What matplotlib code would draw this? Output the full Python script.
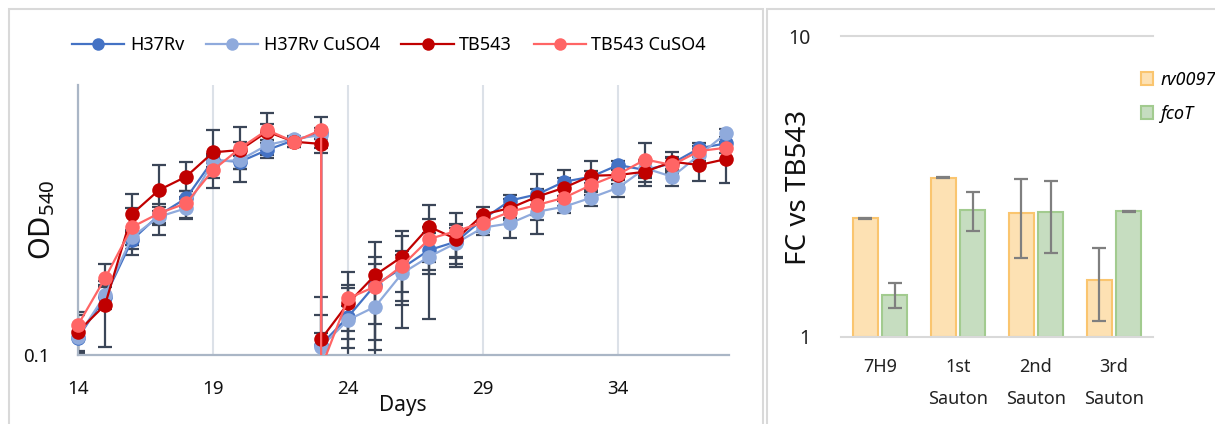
import matplotlib
matplotlib.use("Agg")
import matplotlib.pyplot as plt
from matplotlib.patches import Rectangle, Patch
from matplotlib.ticker import NullLocator, FixedLocator

plt.rcParams['font.family'] = ['Noto Sans', 'DejaVu Sans']
plt.rcParams['mathtext.fontset'] = 'custom'
plt.rcParams['mathtext.rm'] = 'Noto Sans'

# ---------------- Left chart data ----------------
days = [14, 15, 16, 17, 18, 19, 20, 21, 22, 23,
        23, 24, 25, 26, 27, 28, 29, 30, 31, 32, 33, 34, 35, 36, 37, 38]

h37rv = [0.134, 0.269, 0.711, 1.089, 1.448, 2.78, 2.70, 3.30, 3.91, 4.41,
         0.119, 0.192, 0.330, 0.441, 0.599, 0.691, 1.017, 1.394, 1.549, 1.921,
         2.093, 2.555, 2.345, 2.63, 3.40, 3.70]
h37rv_cu = [0.137, 0.278, 0.748, 1.058, 1.221, 2.70, 2.78, 3.59, 3.98, 4.26,
            0.115, 0.182, 0.228, 0.403, 0.535, 0.675, 0.879, 0.945, 1.152, 1.255,
            1.463, 1.735, 2.415, 2.093, 3.03, 4.39]
tb543 = [0.149, 0.235, 1.107, 1.668, 2.093, 3.17, 3.30, 4.51, 3.80, 3.66,
         0.131, 0.2415, 0.391, 0.535, 0.892, 0.723, 1.098, 1.227, 1.488, 1.735,
         2.128, 2.154, 2.28, 2.70, 2.555, 2.83]
tb543_cu = [0.167, 0.370, 0.887, 1.121, 1.330, 2.345, 3.40, 4.64, 3.80, 4.64,
            0.08, 0.263, 0.321, 0.459, 0.723, 0.829, 0.958, 1.152, 1.292, 1.463,
            1.816, 2.18, 2.806, 2.555, 3.245, 3.43]

err_h37rv = [0.03, 0.05, 0.10, 0.15, 0.20, 0.30, 0.30, 0.40, 0.20, 0.40,
             0.08, 0.12, 0.20, 0.15, 0.20, 0.24, 0.10, 0.15, 0.15, 0.42,
             0.20, 0.20, 0.30, 0.30, 0.30, 0.30]
err_h37rv_cu = [0.03, 0.05, 0.10, 0.10, 0.20, 0.30, 0.40, 0.30, 0.20, 0.30,
                0.03, 0.05, 0.12, 0.15, 0.35, 0.20, 0.10, 0.21, 0.15, 0.13,
                0.20, 0.25, 0.30, 0.30, 0.30, 0.30]
err_tb543 = [0.05, 0.12, 0.45, 0.90, 0.60, 1.45, 0.50, 0.60, 0.30, 0.50,
             0.14, 0.09, 0.30, 0.30, 0.40, 0.20, 0.15, 0.20, 0.70, 0.30,
             0.60, 0.30, 0.50, 0.50, 0.60, 0.95]
err_tb543_cu = [0.04, 0.10, 0.34, 0.20, 0.30, 0.30, 1.50, 1.60, 0.30, 1.20,
                0.00, 0.15, 0.15, 0.30, 0.30, 0.30, 0.15, 0.15, 0.20, 0.20,
                0.20, 0.20, 0.90, 0.30, 0.30, 0.30]

series_labels = ['H37Rv', 'H37Rv CuSO4', 'TB543', 'TB543 CuSO4']
series_colors = ['#4472C4', '#8FAADC', '#C00000', '#FF6565']

x_ticks = [14, 19, 24, 29, 34]

# ---------------- Right chart data ----------------
conditions = ['7H9', '1st\nSauton', '2nd\nSauton', '3rd\nSauton']
rv0097 = [2.48, 3.38, 2.59, 1.55]
rv0097_err = [0.01, 0.01, 0.76, 0.42]
fcoT = [1.38, 2.64, 2.60, 2.62]
fcoT_err = [0.127, 0.39, 0.70, 0.01]

W, H = 1215, 424
fig = plt.figure(figsize=(W / 100, H / 100), dpi=100)

def fx(px):
    return px / W

def fy(py):
    return 1 - py / H

# panel frames
fig.patches.append(Rectangle((fx(9), fy(440)), fx(763) - fx(9), fy(9) - fy(440),
                             transform=fig.transFigure, fill=False,
                             edgecolor='#D9D9D9', linewidth=1.5))
fig.patches.append(Rectangle((fx(767), fy(440)), fx(1230) - fx(767), fy(9) - fy(440),
                             transform=fig.transFigure, fill=False,
                             edgecolor='#D9D9D9', linewidth=1.5))

# ---------------- Left axes ----------------
ax1 = fig.add_axes([fx(78), fy(355), fx(729) - fx(78), fy(85) - fy(355)])
ax1.set_yscale('log')
ax1.set_ylim(0.1, 10)
ax1.set_xlim(14, 38.1)

all_vals = [h37rv, h37rv_cu, tb543, tb543_cu]
all_errs = [err_h37rv, err_h37rv_cu, err_tb543, err_tb543_cu]
handles = []
for vals, errs in zip(all_vals, all_errs):
    ax1.errorbar(days, vals, yerr=errs, fmt='none', ecolor='#3B4658',
                 elinewidth=1.6, capsize=4.8, capthick=1.6, zorder=2)
for i, (vals, col, lab) in enumerate(zip(all_vals, series_colors, series_labels)):
    ax1.plot(days, vals, '-', color=col, linewidth=1.6, zorder=3 + i * 0.1)
    vis = [(d, v) for d, v in zip(days, vals) if v >= 0.1]
    mk, = ax1.plot([d for d, _ in vis], [v for _, v in vis], 'o', color=col,
                   markersize=10.5, markeredgewidth=0, zorder=3.05 + i * 0.1,
                   clip_on=False)
    h, = ax1.plot([], [], '-o', color=col, linewidth=1.6, markersize=9,
                  markeredgewidth=0, label=lab)
    handles.append(h)

for s in ['top', 'right']:
    ax1.spines[s].set_visible(False)
for s in ['left', 'bottom']:
    ax1.spines[s].set_color('#AAB6C6')
    ax1.spines[s].set_linewidth(1.6)
ax1.set_xticks(x_ticks)
ax1.set_xticklabels([str(t) for t in x_ticks])
ax1.xaxis.grid(True, color='#DCE1E8', linewidth=1.5)
ax1.set_axisbelow(True)
ax1.yaxis.set_major_locator(FixedLocator([0.1]))
ax1.yaxis.set_minor_locator(NullLocator())
ax1.set_yticklabels(['0.1'])
ax1.tick_params(axis='both', length=0, labelsize=13.5, colors='#111111')
ax1.tick_params(axis='x', pad=18)
ax1.tick_params(axis='y', pad=20)

fig.text(fx(403), fy(405), 'Days', ha='center', va='center', fontsize=15, color='#111111')
fig.text(fx(42), fy(220), r'$\mathregular{OD_{540}}$', ha='center', va='center',
         rotation=90, fontsize=21, color='#111111')

fig.legend(handles, series_labels, loc='center', bbox_to_anchor=(fx(389), fy(45)),
           ncol=4, frameon=False, fontsize=13, handlelength=2.9,
           handletextpad=0.3, columnspacing=1.2)

# ---------------- Right axes ----------------
ax2 = fig.add_axes([fx(841), fy(337), fx(1153) - fx(841), fy(36) - fy(337)])
ax2.set_yscale('log')
ax2.set_ylim(1, 10)
ax2.set_xlim(-0.5, 3.5)
pos = list(range(len(conditions)))
bw = 0.32
off = 0.19
ax2.bar([p - off for p in pos], [v - 1 for v in rv0097], bottom=1, width=bw,
        color='#FDE1B3', edgecolor='#FAC56F', linewidth=1.5, zorder=2)
ax2.bar([p + off for p in pos], [v - 1 for v in fcoT], bottom=1, width=bw,
        color='#C6DDC0', edgecolor='#A2CB8F', linewidth=1.5, zorder=2)
ax2.errorbar([p - off for p in pos], rv0097, yerr=rv0097_err, fmt='none',
             ecolor='#7F7F7F', elinewidth=1.6, capsize=5, capthick=1.6, zorder=3)
ax2.errorbar([p + off for p in pos], fcoT, yerr=fcoT_err, fmt='none',
             ecolor='#7F7F7F', elinewidth=1.6, capsize=5, capthick=1.6, zorder=3)

for s in ['top', 'right', 'left']:
    ax2.spines[s].set_visible(False)
ax2.spines['bottom'].set_color('#D9D9D9')
ax2.spines['bottom'].set_linewidth(1.5)
ax2.axhline(10, color='#D9D9D9', linewidth=1.5, zorder=1, clip_on=False)
ax2.yaxis.set_major_locator(FixedLocator([1, 10]))
ax2.yaxis.set_minor_locator(NullLocator())
ax2.set_yticklabels(['1', '10'])
ax2.set_xticks(pos)
ax2.set_xticklabels(conditions, linespacing=2.0)
ax2.tick_params(axis='both', length=0, labelsize=13, colors='#222222')
ax2.tick_params(axis='x', pad=15)
ax2.tick_params(axis='y', pad=22, labelsize=14)

fig.text(fx(799), fy(187), 'FC vs TB543', ha='center', va='center', rotation=90,
         fontsize=20, color='#111111')

leg2 = fig.legend([Patch(facecolor='#FDE1B3', edgecolor='#FAC56F', linewidth=1.5),
                   Patch(facecolor='#C6DDC0', edgecolor='#A2CB8F', linewidth=1.5)],
                  ['rv0097', 'fcoT'], loc='upper left',
                  bbox_to_anchor=(fx(1128), fy(58)), frameon=False, fontsize=13,
                  handlelength=0.7, handleheight=0.7, handletextpad=0.4,
                  labelspacing=0.9, borderpad=0.2)
for t in leg2.get_texts():
    t.set_fontstyle('italic')

fig.savefig('out.png', dpi=100)
